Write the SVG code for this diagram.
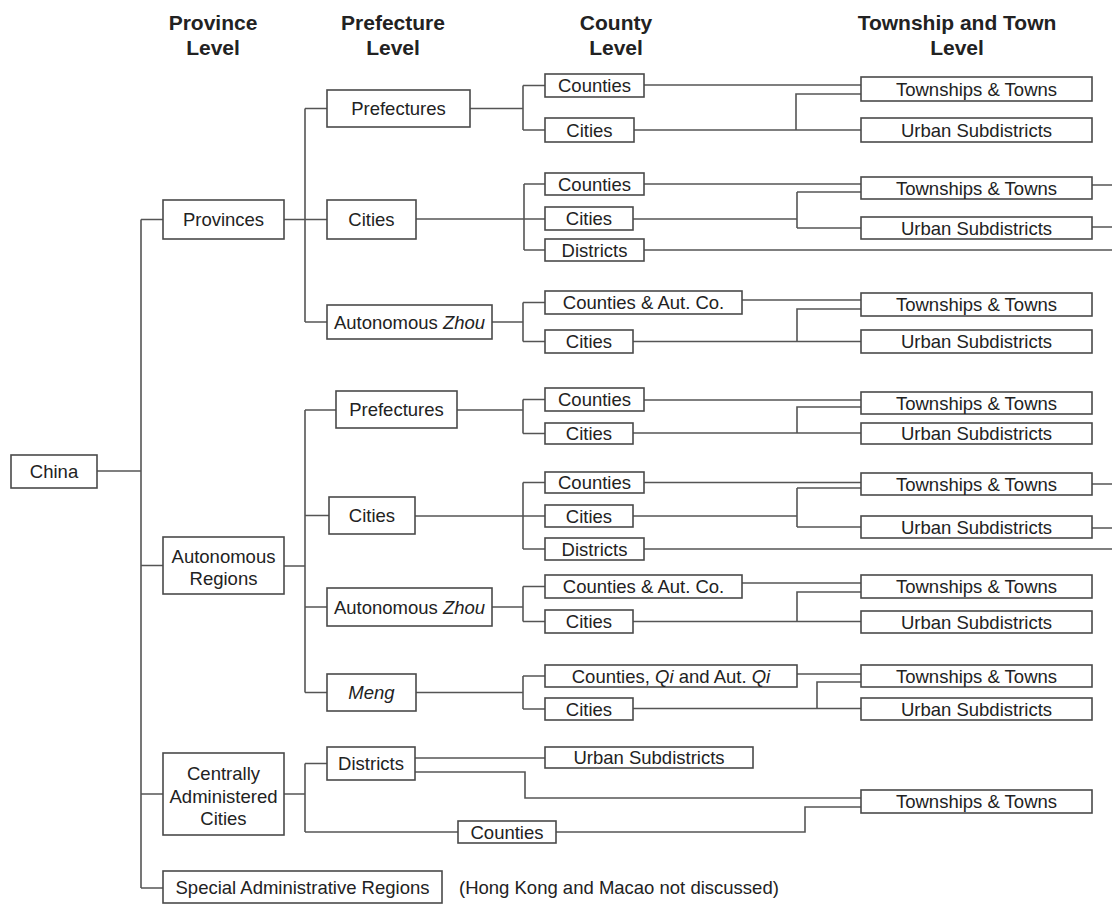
<svg xmlns="http://www.w3.org/2000/svg" width="1112" height="906" viewBox="0 0 1112 906">
<style>
.box{fill:#fff;stroke:#4a4a4a;stroke-width:1.6}
.t{font-family:"Liberation Sans",Arial,sans-serif;font-size:18.5px;fill:#222;text-anchor:middle}
.h{font-family:"Liberation Sans",Arial,sans-serif;font-size:21px;font-weight:bold;fill:#222;text-anchor:middle}
.i{font-style:italic}
.c{fill:none;stroke:#555;stroke-width:1.6}
</style>
<rect width="1112" height="906" fill="#fff"/>
<g id="headers">
<text class="h" x="213" y="30">Province</text><text class="h" x="213" y="55">Level</text>
<text class="h" x="393" y="30">Prefecture</text><text class="h" x="393" y="55">Level</text>
<text class="h" x="616" y="30">County</text><text class="h" x="616" y="55">Level</text>
<text class="h" x="957" y="30">Township and Town</text><text class="h" x="957" y="55">Level</text>
</g>
<g id="connectors" class="c">
<path d="M97 471H141M141 219.5V888M141 219.5H163M141 565.5H163M141 794H163M141 888H163"/>
<path d="M284 219.5H327M305 108.5V322M305 108.5H327M305 322H327"/>
<path d="M470 108.5H523M523 85.5V130M523 85.5H545M523 130H545"/>
<path d="M416 219H545M524 184V250M524 184H545M524 250H545"/>
<path d="M492 322H523M523 302.5V341.5M523 302.5H545M523 341.5H545"/>
<path d="M284 566H305M305 410V692.5M305 410H336M305 515.5H329M305 607H327M305 692.5H327"/>
<path d="M457 410H523M523 399.5V433.5M523 399.5H545M523 433.5H545"/>
<path d="M415 516H545M523 482.5V549M523 482.5H545M523 549H545"/>
<path d="M492 607H523M523 586.5V621.5M523 586.5H545M523 621.5H545"/>
<path d="M416 692.5H523M523 676V709M523 676H545M523 709H545"/>
<path d="M284 794H305M305 763.5V832M305 763.5H327M305 832H458"/>
<path d="M415 758H545M415 772H525V798H861M556 832H805V807H861"/>
<path d="M644 85H861M634 130H861M796 130V94H861"/>
<path d="M644 184H861M633 219H797M797 192V228M797 192H861M797 228H861M1092 185H1112M1092 227H1112M644 250H1112"/>
<path d="M742 300H861M633 341.5H861M797 341.5V309H861"/>
<path d="M644 400H861M633 433H861M797 433V407H861"/>
<path d="M644 482.5H861M633 516H797M797 488V527M797 488H861M797 527H861M1092 484H1112M1092 528H1112M644 549H1112"/>
<path d="M742 583H861M633 621.5H861M797 621.5V592H861"/>
<path d="M797 674H861M633 708.5H861M817 708.5V682H861"/>
</g>
<g id="china"><rect class="box" x="11" y="455" width="86" height="33"/><text class="t" x="54" y="478">China</text></g>
<g id="provinces"><rect class="box" x="163" y="200" width="121" height="39"/><text class="t" x="223.5" y="226">Provinces</text></g>
<g id="autonomous-regions"><rect class="box" x="163" y="537" width="121" height="57"/><text class="t" x="223.5" y="562.5">Autonomous</text><text class="t" x="223.5" y="584.5">Regions</text></g>
<g id="central-cities"><rect class="box" x="163" y="753" width="121" height="82"/><text class="t" x="223.5" y="779.5">Centrally</text><text class="t" x="223.5" y="802.5">Administered</text><text class="t" x="223.5" y="824.5">Cities</text></g>
<g id="sar"><rect class="box" x="163" y="871" width="279" height="32"/><text class="t" x="302.5" y="893.5">Special Administrative Regions</text></g>
<g id="note"><text class="t" x="459" y="894" style="text-anchor:start">(Hong Kong and Macao not discussed)</text></g>

<g id="p-prefectures"><rect class="box" x="327" y="90" width="143" height="37"/><text class="t" x="398.5" y="115">Prefectures</text></g>
<g id="p-cities"><rect class="box" x="327" y="200" width="89" height="39"/><text class="t" x="371.5" y="226">Cities</text></g>
<g id="p-autzhou"><rect class="box" x="327" y="305" width="165" height="34"/><text class="t" x="409.5" y="328.5">Autonomous <tspan class="i">Zhou</tspan></text></g>
<g id="a-prefectures"><rect class="box" x="336" y="391" width="121" height="37"/><text class="t" x="396.5" y="416">Prefectures</text></g>
<g id="a-cities"><rect class="box" x="329" y="497" width="86" height="37"/><text class="t" x="372" y="522">Cities</text></g>
<g id="a-autzhou"><rect class="box" x="327" y="588" width="165" height="38"/><text class="t" x="409.5" y="613.5">Autonomous <tspan class="i">Zhou</tspan></text></g>
<g id="a-meng"><rect class="box" x="327" y="674" width="89" height="37"/><text class="t i" x="371.5" y="699">Meng</text></g>
<g id="c-districts"><rect class="box" x="327" y="747" width="88" height="33"/><text class="t" x="371" y="770">Districts</text></g>
<g id="c-counties"><rect class="box" x="458" y="821" width="98" height="22"/><text class="t" x="507" y="838.5">Counties</text></g>

<g id="p1-counties"><rect class="box" x="545" y="74" width="99" height="23"/><text class="t" x="594.5" y="92">Counties</text></g>
<g id="p1-cities"><rect class="box" x="545" y="118" width="89" height="24"/><text class="t" x="589.5" y="136.5">Cities</text></g>
<g id="p2-counties"><rect class="box" x="545" y="173" width="99" height="22"/><text class="t" x="594.5" y="190.5">Counties</text></g>
<g id="p2-cities"><rect class="box" x="545" y="207" width="88" height="23"/><text class="t" x="589" y="225">Cities</text></g>
<g id="p2-districts"><rect class="box" x="545" y="239" width="99" height="22"/><text class="t" x="594.5" y="256.5">Districts</text></g>
<g id="p3-counties"><rect class="box" x="545" y="291" width="197" height="23"/><text class="t" x="643.5" y="309">Counties &amp; Aut. Co.</text></g>
<g id="p3-cities"><rect class="box" x="545" y="330" width="88" height="23"/><text class="t" x="589" y="348">Cities</text></g>
<g id="a1-counties"><rect class="box" x="545" y="388" width="99" height="23"/><text class="t" x="594.5" y="406">Counties</text></g>
<g id="a1-cities"><rect class="box" x="545" y="423" width="88" height="21"/><text class="t" x="589" y="440">Cities</text></g>
<g id="a2-counties"><rect class="box" x="545" y="472" width="99" height="21"/><text class="t" x="594.5" y="489">Counties</text></g>
<g id="a2-cities"><rect class="box" x="545" y="505" width="88" height="22"/><text class="t" x="589" y="522.5">Cities</text></g>
<g id="a2-districts"><rect class="box" x="545" y="538" width="99" height="22"/><text class="t" x="594.5" y="555.5">Districts</text></g>
<g id="a3-counties"><rect class="box" x="545" y="575" width="197" height="23"/><text class="t" x="643.5" y="593">Counties &amp; Aut. Co.</text></g>
<g id="a3-cities"><rect class="box" x="545" y="610" width="88" height="23"/><text class="t" x="589" y="628">Cities</text></g>
<g id="a4-counties"><rect class="box" x="545" y="665" width="252" height="22"/><text class="t" x="671" y="682.5">Counties, <tspan class="i">Qi</tspan> and Aut. <tspan class="i">Qi</tspan></text></g>
<g id="a4-cities"><rect class="box" x="545" y="698" width="88" height="22"/><text class="t" x="589" y="715.5">Cities</text></g>
<g id="c-urban"><rect class="box" x="545" y="747" width="208" height="21"/><text class="t" x="649" y="764">Urban Subdistricts</text></g>

<g id="p1-townships"><rect class="box" x="861" y="77" width="231" height="24"/><text class="t" x="976.5" y="95.5">Townships &amp; Towns</text></g>
<g id="p1-urban"><rect class="box" x="861" y="118" width="231" height="24"/><text class="t" x="976.5" y="136.5">Urban Subdistricts</text></g>
<g id="p2-townships"><rect class="box" x="861" y="177" width="231" height="22"/><text class="t" x="976.5" y="194.5">Townships &amp; Towns</text></g>
<g id="p2-urban"><rect class="box" x="861" y="217" width="231" height="22"/><text class="t" x="976.5" y="234.5">Urban Subdistricts</text></g>
<g id="p3-townships"><rect class="box" x="861" y="293" width="231" height="23"/><text class="t" x="976.5" y="311">Townships &amp; Towns</text></g>
<g id="p3-urban"><rect class="box" x="861" y="330" width="231" height="23"/><text class="t" x="976.5" y="348">Urban Subdistricts</text></g>
<g id="a1-townships"><rect class="box" x="861" y="392" width="231" height="22"/><text class="t" x="976.5" y="409.5">Townships &amp; Towns</text></g>
<g id="a1-urban"><rect class="box" x="861" y="423" width="231" height="21"/><text class="t" x="976.5" y="440">Urban Subdistricts</text></g>
<g id="a2-townships"><rect class="box" x="861" y="473" width="231" height="22"/><text class="t" x="976.5" y="490.5">Townships &amp; Towns</text></g>
<g id="a2-urban"><rect class="box" x="861" y="516" width="231" height="22"/><text class="t" x="976.5" y="533.5">Urban Subdistricts</text></g>
<g id="a3-townships"><rect class="box" x="861" y="575" width="231" height="23"/><text class="t" x="976.5" y="593">Townships &amp; Towns</text></g>
<g id="a3-urban"><rect class="box" x="861" y="611" width="231" height="22"/><text class="t" x="976.5" y="628.5">Urban Subdistricts</text></g>
<g id="a4-townships"><rect class="box" x="861" y="665" width="231" height="22"/><text class="t" x="976.5" y="682.5">Townships &amp; Towns</text></g>
<g id="a4-urban"><rect class="box" x="861" y="698" width="231" height="22"/><text class="t" x="976.5" y="715.5">Urban Subdistricts</text></g>
<g id="c-townships"><rect class="box" x="861" y="790" width="231" height="23"/><text class="t" x="976.5" y="808">Townships &amp; Towns</text></g>
</svg>
